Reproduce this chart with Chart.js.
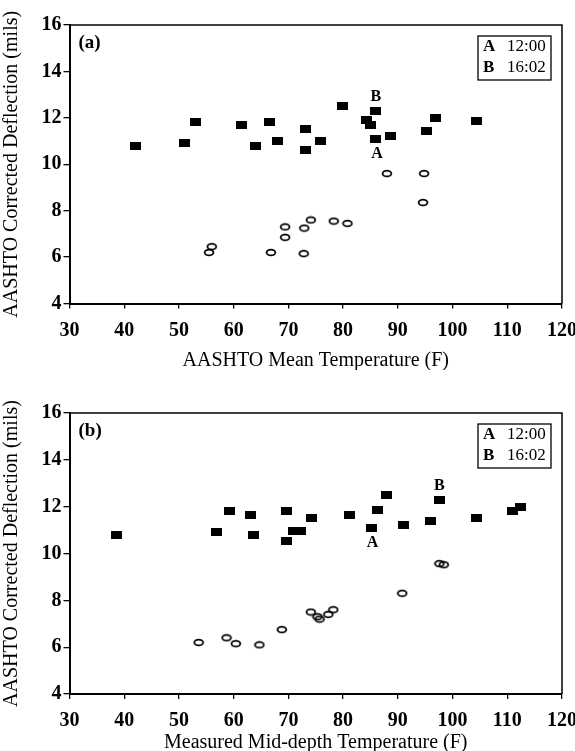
<!DOCTYPE html>
<html>
<head>
<meta charset="utf-8">
<script src="https://cdn.jsdelivr.net/npm/chart.js@4"></script>
<style>
  body { margin: 0; background: #fff; }
  .box { position: absolute; left: 0; width: 575px; }
  #boxA { top: 0; height: 370px; }
  #boxB { top: 370px; height: 381px; }
</style>
</head>
<body>
<div class="box" id="boxA"><canvas id="chartA"></canvas></div>
<div class="box" id="boxB"><canvas id="chartB"></canvas></div>
<script>
// axis ticks (both panels)
var xTicks = [30, 40, 50, 60, 70, 80, 90, 100, 110, 120];
var yTicks = [4, 6, 8, 10, 12, 14, 16];

// panel (a): AASHTO mean temperature
var aSquareX = [42, 51, 53, 61.5, 64, 66.5, 68, 73.2, 73.2, 75.8, 79.8, 84.2, 85, 86, 86, 88.6, 95.2, 96.9, 104.3];
var aSquareY = [10.8, 10.9, 11.8, 11.7, 10.8, 11.8, 11.0, 11.5, 10.6, 11.0, 12.5, 11.9, 11.7, 12.3, 11.1, 11.2, 11.45, 12.0, 11.85];
var aCircleX = [55.5, 56, 66.8, 69.4, 69.4, 72.8, 72.9, 74.1, 78.3, 80.8, 88, 94.6, 94.8];
var aCircleY = [6.2, 6.45, 6.2, 6.85, 7.3, 6.15, 7.25, 7.6, 7.55, 7.45, 9.6, 8.35, 9.6];
var aPointA = [86, 11.1];
var aPointB = [86, 12.3];

// panel (b): measured mid-depth temperature
var bSquareX = [38.5, 56.9, 59.2, 63.1, 63.6, 69.7, 69.6, 71, 72.3, 74.2, 81.2, 85.2, 86.3, 88, 91, 95.9, 97.6, 104.4, 110.9, 112.5];
var bSquareY = [10.8, 10.9, 11.8, 11.65, 10.8, 11.8, 10.55, 10.95, 10.95, 11.5, 11.65, 11.1, 11.85, 12.5, 11.2, 11.4, 12.3, 11.5, 11.8, 12.0];
var bCircleX = [53.6, 58.7, 60.4, 64.7, 68.8, 74.1, 75.3, 75.7, 77.3, 78.2, 90.8, 97.6, 98.4];
var bCircleY = [6.2, 6.4, 6.15, 6.1, 6.75, 7.5, 7.3, 7.2, 7.4, 7.6, 8.3, 9.57, 9.52];
var bPointA = [85.2, 11.1];
var bPointB = [97.6, 12.3];

var legendLines = [['A', '12:00'], ['B', '16:02']];

var SERIF = "'Liberation Serif', 'Times New Roman', serif";

function pairs(xs, ys) {
  var out = [];
  for (var i = 0; i < xs.length; i++) out.push({x: xs[i], y: ys[i]});
  return out;
}

function squareMark() {
  var c = document.createElement('canvas');
  c.width = 11; c.height = 8;
  var g = c.getContext('2d');
  g.fillStyle = '#000';
  g.fillRect(0, 0, 11, 8);
  return c;
}

function ringMark() {
  var c = document.createElement('canvas');
  c.width = 12; c.height = 9;
  var g = c.getContext('2d');
  g.strokeStyle = '#000';
  g.lineWidth = 1.8;
  g.beginPath();
  g.ellipse(6, 4.5, 4.4, 2.9, 0, 0, Math.PI * 2);
  g.stroke();
  return c;
}

var sq = squareMark();
var ring = ringMark();

// frame, panel tag, legend box and A/B labels
var decor = {
  id: 'decor',
  afterDatasetsDraw: function(chart, args, opts) {
    var ctx = chart.ctx, a = chart.chartArea;
    var xs = chart.scales.x, ys = chart.scales.y;
    ctx.save();
    ctx.strokeStyle = '#000';
    ctx.lineWidth = 1.5;
    ctx.beginPath();
    ctx.moveTo(a.left, a.top);
    ctx.lineTo(a.right, a.top);
    ctx.lineTo(a.right, a.bottom);
    ctx.stroke();

    ctx.fillStyle = '#000';
    ctx.textBaseline = 'middle';
    ctx.textAlign = 'left';
    ctx.font = 'bold 19px ' + SERIF;
    ctx.fillText(opts.tag, a.left + 9, a.top + 18);

    // legend box
    var bx = a.right - 84, by = a.top + 11, bw = 73, bh = 44;
    ctx.lineWidth = 1.3;
    ctx.strokeRect(bx, by, bw, bh);
    for (var i = 0; i < legendLines.length; i++) {
      var ty = by + 11 + i * 21;
      ctx.font = 'bold 17px ' + SERIF;
      ctx.fillText(legendLines[i][0], bx + 5, ty);
      ctx.font = '17px ' + SERIF;
      ctx.fillText(legendLines[i][1], bx + 29, ty);
    }

    // point labels
    ctx.font = 'bold 16px ' + SERIF;
    ctx.textAlign = 'center';
    ctx.fillText('A', xs.getPixelForValue(opts.pA[0]) + 1, ys.getPixelForValue(opts.pA[1]) + 15);
    ctx.fillText('B', xs.getPixelForValue(opts.pB[0]), ys.getPixelForValue(opts.pB[1]) - 14);
    ctx.restore();
  }
};

function makeChart(id, xTitle, sqX, sqY, ciX, ciY, tag, pA, pB, padTop, xHeight, titlePad) {
  return new Chart(document.getElementById(id), {
    type: 'scatter',
    data: {
      datasets: [
        {data: pairs(sqX, sqY), pointStyle: sq, pointRadius: 5, pointHoverRadius: 5},
        {data: pairs(ciX, ciY), pointStyle: ring, pointRadius: 5, pointHoverRadius: 5}
      ]
    },
    options: {
      responsive: true,
      maintainAspectRatio: false,
      animation: false,
      events: [],
      layout: {padding: {top: padTop, right: 0, left: 0, bottom: 0}},
      plugins: {
        legend: {display: false},
        tooltip: {enabled: false},
        decor: {tag: tag, pA: pA, pB: pB}
      },
      scales: {
        x: {
          type: 'linear', min: 30, max: 120,
          afterBuildTicks: function(s) { s.ticks = xTicks.map(function(v) { return {value: v}; }); },
          afterFit: function(s) { s.height = xHeight; s.paddingLeft = 0; s.paddingRight = 13; },
          grid: {drawOnChartArea: false, tickLength: 5, color: '#000', lineWidth: 1.3},
          border: {display: true, color: '#000', width: 2},
          ticks: {color: '#000', padding: 10, maxRotation: 0, autoSkip: false,
                  font: {family: SERIF, size: 20, weight: 'bold'}},
          title: {display: true, text: xTitle, color: '#000',
                  padding: {top: 0, bottom: titlePad},
                  font: {family: SERIF, size: 20, lineHeight: 0.8}}
        },
        y: {
          type: 'linear', min: 4, max: 16,
          afterBuildTicks: function(s) { s.ticks = yTicks.map(function(v) { return {value: v}; }); },
          afterFit: function(s) { s.width = 69.5; s.paddingTop = 0; s.paddingBottom = 0; },
          grid: {drawOnChartArea: false, tickLength: 6, color: '#000', lineWidth: 1.3},
          border: {display: true, color: '#000', width: 2},
          ticks: {color: '#000', padding: 2, autoSkip: false,
                  font: {family: SERIF, size: 20, weight: 'bold'}},
          title: {display: true, text: 'AASHTO Corrected Deflection (mils)', color: '#000',
                  padding: {top: 0, bottom: 0},
                  font: {family: SERIF, size: 20, lineHeight: 1.2}}
        }
      }
    },
    plugins: [decor]
  });
}

makeChart('chartA', 'AASHTO Mean Temperature (F)', aSquareX, aSquareY, aCircleX, aCircleY,
          '(a)', aPointA, aPointB, 25, 66.5, 1);
makeChart('chartB', 'Measured Mid-depth Temperature (F)', bSquareX, bSquareY, bCircleX, bCircleY,
          '(b)', bPointA, bPointB, 43, 57, 0);
</script>
</body>
</html>
